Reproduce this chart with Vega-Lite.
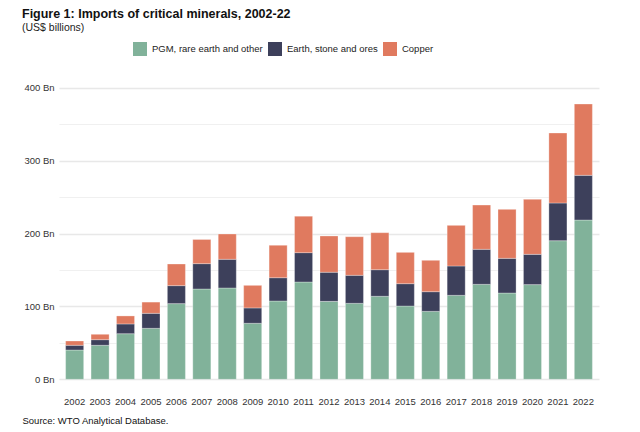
{
  "$schema": "https://vega.github.io/schema/vega-lite/v6.json",
  "autosize": "none",
  "width": 540,
  "height": 291.3,
  "padding": {"left": 59, "top": 88, "right": 41, "bottom": 52},
  "background": "#ffffff",
  "config": {
    "font": "Liberation Sans, Arial, sans-serif",
    "view": {"stroke": null}
  },
  "title": {
    "text": "Figure 1: Imports of critical minerals, 2002-22",
    "subtitle": "(US$ billions)",
    "anchor": "start",
    "frame": "group",
    "dx": -37,
    "offset": 8,
    "fontSize": 12.5,
    "fontWeight": "bold",
    "color": "#111111",
    "subtitleFontSize": 10.5,
    "subtitleColor": "#222222",
    "subtitlePadding": 3
  },
  "data": {
    "values": [
      {"year": "2002", "category": "PGM, rare earth and other", "value": 40.2},
      {"year": "2002", "category": "Earth, stone and ores", "value": 6.5},
      {"year": "2002", "category": "Copper", "value": 5.9},
      {"year": "2003", "category": "PGM, rare earth and other", "value": 46.7},
      {"year": "2003", "category": "Earth, stone and ores", "value": 7.7},
      {"year": "2003", "category": "Copper", "value": 7.4},
      {"year": "2004", "category": "PGM, rare earth and other", "value": 62.6},
      {"year": "2004", "category": "Earth, stone and ores", "value": 13.4},
      {"year": "2004", "category": "Copper", "value": 11.0},
      {"year": "2005", "category": "PGM, rare earth and other", "value": 70.0},
      {"year": "2005", "category": "Earth, stone and ores", "value": 20.6},
      {"year": "2005", "category": "Copper", "value": 15.4},
      {"year": "2006", "category": "PGM, rare earth and other", "value": 103.9},
      {"year": "2006", "category": "Earth, stone and ores", "value": 24.7},
      {"year": "2006", "category": "Copper", "value": 29.7},
      {"year": "2007", "category": "PGM, rare earth and other", "value": 124.0},
      {"year": "2007", "category": "Earth, stone and ores", "value": 34.8},
      {"year": "2007", "category": "Copper", "value": 33.2},
      {"year": "2008", "category": "PGM, rare earth and other", "value": 125.4},
      {"year": "2008", "category": "Earth, stone and ores", "value": 39.4},
      {"year": "2008", "category": "Copper", "value": 34.7},
      {"year": "2009", "category": "PGM, rare earth and other", "value": 76.9},
      {"year": "2009", "category": "Earth, stone and ores", "value": 21.1},
      {"year": "2009", "category": "Copper", "value": 31.0},
      {"year": "2010", "category": "PGM, rare earth and other", "value": 107.5},
      {"year": "2010", "category": "Earth, stone and ores", "value": 32.0},
      {"year": "2010", "category": "Copper", "value": 44.5},
      {"year": "2011", "category": "PGM, rare earth and other", "value": 133.6},
      {"year": "2011", "category": "Earth, stone and ores", "value": 40.3},
      {"year": "2011", "category": "Copper", "value": 50.1},
      {"year": "2012", "category": "PGM, rare earth and other", "value": 107.0},
      {"year": "2012", "category": "Earth, stone and ores", "value": 40.0},
      {"year": "2012", "category": "Copper", "value": 49.8},
      {"year": "2013", "category": "PGM, rare earth and other", "value": 104.3},
      {"year": "2013", "category": "Earth, stone and ores", "value": 38.5},
      {"year": "2013", "category": "Copper", "value": 53.0},
      {"year": "2014", "category": "PGM, rare earth and other", "value": 114.0},
      {"year": "2014", "category": "Earth, stone and ores", "value": 36.5},
      {"year": "2014", "category": "Copper", "value": 50.8},
      {"year": "2015", "category": "PGM, rare earth and other", "value": 100.6},
      {"year": "2015", "category": "Earth, stone and ores", "value": 30.7},
      {"year": "2015", "category": "Copper", "value": 43.0},
      {"year": "2016", "category": "PGM, rare earth and other", "value": 93.3},
      {"year": "2016", "category": "Earth, stone and ores", "value": 27.0},
      {"year": "2016", "category": "Copper", "value": 43.1},
      {"year": "2017", "category": "PGM, rare earth and other", "value": 115.3},
      {"year": "2017", "category": "Earth, stone and ores", "value": 40.3},
      {"year": "2017", "category": "Copper", "value": 55.8},
      {"year": "2018", "category": "PGM, rare earth and other", "value": 130.4},
      {"year": "2018", "category": "Earth, stone and ores", "value": 48.1},
      {"year": "2018", "category": "Copper", "value": 60.8},
      {"year": "2019", "category": "PGM, rare earth and other", "value": 118.5},
      {"year": "2019", "category": "Earth, stone and ores", "value": 47.6},
      {"year": "2019", "category": "Copper", "value": 67.3},
      {"year": "2020", "category": "PGM, rare earth and other", "value": 130.0},
      {"year": "2020", "category": "Earth, stone and ores", "value": 41.6},
      {"year": "2020", "category": "Copper", "value": 75.5},
      {"year": "2021", "category": "PGM, rare earth and other", "value": 190.3},
      {"year": "2021", "category": "Earth, stone and ores", "value": 51.8},
      {"year": "2021", "category": "Copper", "value": 96.1},
      {"year": "2022", "category": "PGM, rare earth and other", "value": 218.7},
      {"year": "2022", "category": "Earth, stone and ores", "value": 61.4},
      {"year": "2022", "category": "Copper", "value": 97.9}
    ]
  },
  "transform": [
    {"calculate": "indexof(['PGM, rare earth and other','Earth, stone and ores','Copper'], datum.category)", "as": "ord"}
  ],
  "mark": {"type": "bar", "stroke": "#ffffff", "strokeWidth": 0.6, "strokeOpacity": 0.5},
  "encoding": {
    "x": {
      "field": "year",
      "type": "ordinal",
      "scale": {"paddingInner": 0.29, "paddingOuter": 0.26},
      "axis": {
        "title": "Source: WTO Analytical Database.",
        "titleAnchor": "start",
        "titleAlign": "left",
        "titleBaseline": "alphabetic",
        "titleX": -37,
        "titleY": 44,
        "titleFontSize": 9.5,
        "titleFontWeight": "normal",
        "titleColor": "#111111",
        "labelAngle": 0,
        "labelFontSize": 9.5,
        "labelColor": "#333333",
        "labelPadding": 17,
        "ticks": false,
        "domain": false,
        "grid": false
      }
    },
    "y": {
      "field": "value",
      "type": "quantitative",
      "stack": "zero",
      "scale": {"domain": [0, 400], "nice": false},
      "axis": {
        "title": null,
        "values": [0, 50, 100, 150, 200, 250, 300, 350, 400],
        "labelExpr": "datum.value % 100 === 0 ? datum.value + ' Bn' : ''",
        "labelFontSize": 9.5,
        "labelColor": "#333333",
        "labelPadding": 5,
        "ticks": false,
        "domain": false,
        "grid": true,
        "gridColor": {"condition": {"test": "datum.value % 100 === 0", "value": "#e8e8e8"}, "value": "#f0f0f0"},
        "gridWidth": {"condition": {"test": "datum.value % 100 === 0", "value": 1.3}, "value": 1}
      }
    },
    "color": {
      "field": "category",
      "type": "nominal",
      "scale": {
        "domain": ["PGM, rare earth and other", "Earth, stone and ores", "Copper"],
        "range": ["#81B29A", "#3D405B", "#E07A5F"]
      },
      "legend": {
        "title": null,
        "orient": "none",
        "direction": "horizontal",
        "legendX": 74,
        "legendY": -46,
        "symbolType": "square",
        "symbolSize": 196,
        "symbolStrokeWidth": 0,
        "symbolOpacity": 1,
        "labelFontSize": 9.5,
        "labelColor": "#222222",
        "labelOffset": 5,
        "columnPadding": 5
      }
    },
    "order": {"field": "ord", "type": "quantitative"}
  }
}
